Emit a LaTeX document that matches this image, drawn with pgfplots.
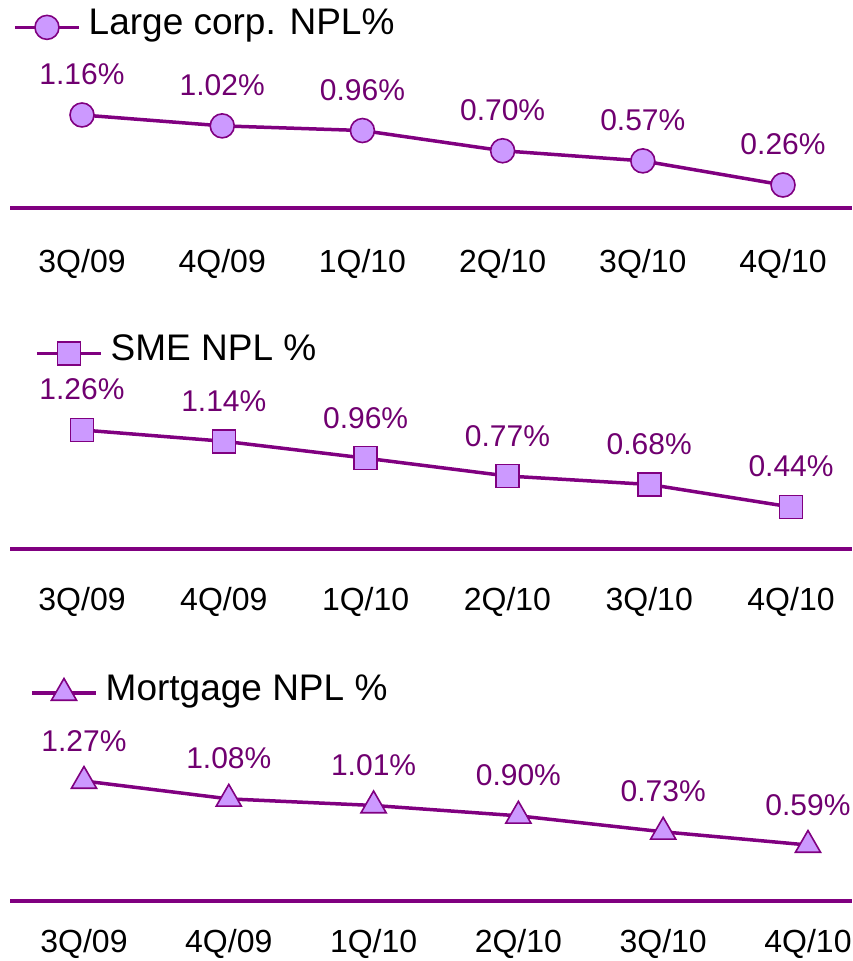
\documentclass[border=0pt]{standalone}
\usepackage{pgfplots}
\pgfplotsset{compat=1.18}
\usepackage{fontspec}
\setmainfont{Liberation Sans}
\definecolor{purp}{HTML}{800080}
\definecolor{lpurp}{HTML}{CC99FF}
\definecolor{txtp}{HTML}{700070}
\pgfplotsset{
 panel/.style={
  scale only axis, width=842pt, clip=false,
  axis x line*=bottom, axis y line=none,
  x axis line style={-, draw=purp, line width=4pt},
  xtick={0,...,5}, xticklabels={3Q/09,4Q/09,1Q/10,2Q/10,3Q/10,4Q/10},
  major tick length=0pt,
  xticklabel style={font=\fontsize{32}{38}\selectfont, anchor=base, inner sep=0pt},
  point meta=explicit symbolic,
  nodes near coords,
  nodes near coords style={font=\fontsize{30}{36}\selectfont, text=txtp, anchor=base, yshift=30pt, inner sep=0pt},
  legend style={draw=none, fill=none, inner sep=0pt, font=\fontsize{37}{44}\selectfont, anchor=west, column sep=8pt, nodes={inner sep=0pt}},
  legend image code/.code={\draw[mark repeat=2, mark phase=2, #1] plot coordinates {(0pt,-5pt)(32pt,-5pt)(64pt,-5pt)};},
 },
 ser/.style={draw=purp, line width=3.5pt, mark options={fill=lpurp, draw=purp, line width=1.6pt, solid}},
}
\begin{document}
\begin{tikzpicture}
\useasboundingbox (0pt,0pt) rectangle (852pt,-961pt);
\begin{pgfinterruptboundingbox}
% Panel 1
\begin{axis}[panel, at={(10pt,-208.3pt)}, anchor=south west, height=198.3pt,
  xmin=-0.5136, xmax=5.492, ymin=-0.0395, ymax=2.509,
  xticklabel style={yshift=-64.5pt},
  legend style={at={(0.0036,0.929)}}]
\addplot[ser, mark=*, mark size=12pt] coordinates {
 (0,1.16) [1.16\%] (1,1.02) [1.02\%] (2,0.96) [0.96\%]
 (3,0.70) [0.70\%] (4,0.57) [0.57\%] (5,0.26) [0.26\%]};
\addlegendentry{Large corp. NPL\%}
\end{axis}
% Panel 2
\begin{axis}[panel, at={(10pt,-549pt)}, anchor=south west, height=209pt,
  xmin=-0.5078, xmax=5.430, ymin=-0.0073, ymax=2.218,
  xticklabel style={yshift=-61pt},
  legend style={at={(0.0297,0.952)}}]
\addplot[ser, mark=square*, mark size=11.5pt] coordinates {
 (0,1.26) [1.26\%] (1,1.14) [1.14\%] (2,0.96) [0.96\%]
 (3,0.77) [0.77\%] (4,0.68) [0.68\%] (5,0.44) [0.44\%]};
\addlegendentry{SME NPL \%}
\end{axis}
% Panel 3
\begin{axis}[panel, at={(10pt,-901pt)}, anchor=south west, height=221pt,
  xmin=-0.511, xmax=5.304, ymin=-0.005, ymax=2.343,
  xticklabel style={yshift=-51pt},
  legend style={at={(0.0238,0.964)}}]
\addplot[ser, mark=triangle*, mark size=14.5pt] coordinates {
 (0,1.27) [1.27\%] (1,1.08) [1.08\%] (2,1.01) [1.01\%]
 (3,0.90) [0.90\%] (4,0.73) [0.73\%] (5,0.59) [0.59\%]};
\addlegendentry{Mortgage NPL \%}
\end{axis}
\end{pgfinterruptboundingbox}
\end{tikzpicture}
\end{document}
